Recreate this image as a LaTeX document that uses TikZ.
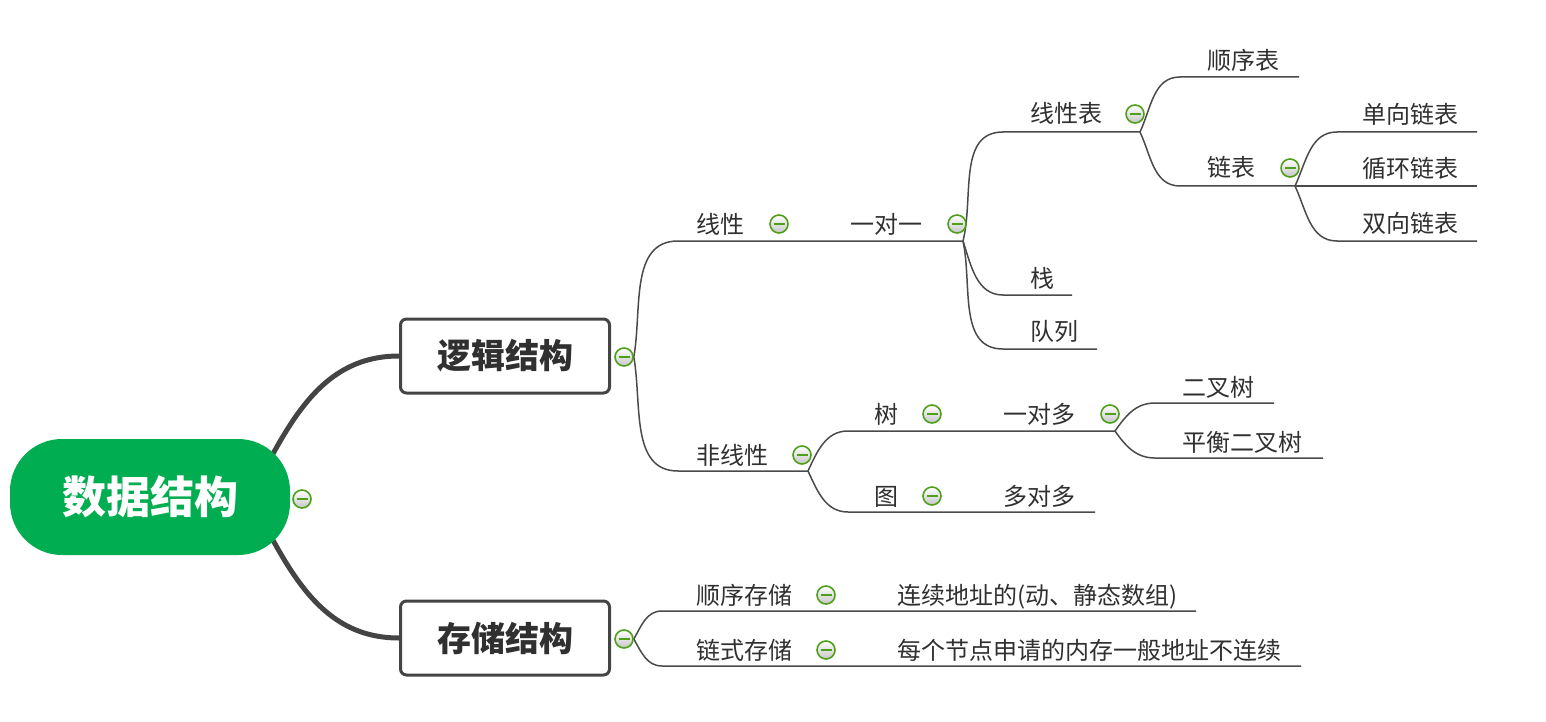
\documentclass[tikz,border=0pt]{standalone}
\usepackage{fontspec}
\newfontfamily\cjk{Noto Sans CJK SC}
\usetikzlibrary{backgrounds}
\definecolor{rootgreen}{HTML}{00AD50}
\definecolor{linec}{HTML}{4A4A4A}
\definecolor{boxc}{HTML}{444444}
\definecolor{txt}{HTML}{303030}
\definecolor{cgreen}{HTML}{4E9F1A}
\begin{document}
\begin{tikzpicture}[x=1pt,y=1pt,
  lbl/.style={anchor=west, inner sep=0pt, font=\cjk\fontsize{24}{28}\selectfont, text=txt, text height=21pt, text depth=3pt},
  conn/.style={draw=linec, line width=1.5pt},
  rootconn/.style={draw=boxc, line width=5pt},
  fold/.style={circle, draw=cgreen, line width=1.6pt, minimum size=18pt, inner sep=0pt, top color=white, bottom color=black!22,
    path picture={\draw[cgreen, line width=2.2pt] ([xshift=-5.5pt]path picture bounding box.center) -- ([xshift=5.5pt]path picture bounding box.center);}},
  topbox/.style={draw=boxc, line width=3pt, rounded corners=6pt, fill=white, minimum width=209pt, minimum height=74pt, font=\cjk\bfseries\fontsize{34}{40}\selectfont, text=txt},
  rootnode/.style={fill=rootgreen, rounded corners=52pt, minimum width=280pt, minimum height=116pt, text=white, font=\cjk\bfseries\fontsize{44}{50}\selectfont}
]
\useasboundingbox (0,0) rectangle (1546,-722);
% main nodes
\node[rootnode] (root) at (150,-497) {数据结构};
\node[fold] (f0) at (302,-499) {};
\node[topbox] (L1) at (505,-356) {逻辑结构};
\node[topbox] (L2) at (505,-638) {存储结构};
\node[fold] (f1) at (624,-357) {};
\node[fold] (f2) at (624,-639) {};
% underline coordinates
\coordinate (a1s) at (678,-241); \coordinate (a1e) at (808,-241);
\coordinate (b1e) at (963,-241);
\coordinate (c1s) at (1003,-132); \coordinate (c1e) at (1140,-132);
\coordinate (c2s) at (1003,-295); \coordinate (c2e) at (1072,-295);
\coordinate (c3s) at (1003,-349); \coordinate (c3e) at (1097,-349);
\coordinate (d1s) at (1180,-77); \coordinate (d1e) at (1299,-77);
\coordinate (d2s) at (1180,-186); \coordinate (d2e) at (1295,-186);
\coordinate (e1s) at (1337,-132); \coordinate (e1e) at (1477,-132);
\coordinate (e2e) at (1477,-186);
\coordinate (e3s) at (1337,-241); \coordinate (e3e) at (1477,-241);
\coordinate (a2s) at (678,-471); \coordinate (a2e) at (808,-471);
\coordinate (b2s) at (848,-431); \coordinate (b2e) at (960,-431);
\coordinate (b3e) at (1115,-431);
\coordinate (h1s) at (1155,-403); \coordinate (h1e) at (1274,-403);
\coordinate (h2s) at (1155,-458); \coordinate (h2e) at (1323,-458);
\coordinate (b4s) at (848,-512); \coordinate (b4e) at (960,-512);
\coordinate (b5e) at (1095,-512);
\coordinate (g1s) at (662,-611); \coordinate (g1e) at (840,-611);
\coordinate (g2e) at (1196,-611);
\coordinate (g3s) at (662,-666); \coordinate (g3e) at (840,-666);
\coordinate (g4e) at (1301,-666);
% labels
\node[lbl] (ta1) at (696,-224) {线性};
\node[fold] (fa1) at (779,-224) {};
\node[lbl] (tb1) at (850,-224) {一对一};
\node[fold] (fb1) at (957,-224) {};
\node[lbl] (tc1) at (1030,-114) {线性表};
\node[fold] (fc1) at (1135,-114) {};
\node[lbl] (tc2) at (1030,-278) {栈};
\node[lbl] (tc3) at (1030,-331) {队列};
\node[lbl] (td1) at (1207,-61) {顺序表};
\node[lbl] (td2) at (1207,-168) {链表};
\node[fold] (fd2) at (1290,-168) {};
\node[lbl] (te1) at (1362,-115) {单向链表};
\node[lbl] (te2) at (1362,-169) {循环链表};
\node[lbl] (te3) at (1362,-223) {双向链表};
\node[lbl] (ta2) at (696,-455) {非线性};
\node[fold] (fa2) at (802,-455) {};
\node[lbl] (tb2) at (874,-414) {树};
\node[fold] (fb2) at (932,-414) {};
\node[lbl] (tb3) at (1003,-414) {一对多};
\node[fold] (fb3) at (1110,-414) {};
\node[lbl] (th1) at (1182,-387) {二叉树};
\node[lbl] (th2) at (1182,-442) {平衡二叉树};
\node[lbl] (tb4) at (874,-496) {图};
\node[fold] (fb4) at (932,-496) {};
\node[lbl] (tb5) at (1003,-496) {多对多};
\node[lbl] (tg1) at (696,-595) {顺序存储};
\node[fold] (fg1) at (826,-595) {};
\node[lbl] (tg2) at (897,-595) {连续地址的(动、静态数组)};
\node[lbl] (tg3) at (696,-650) {链式存储};
\node[fold] (fg3) at (826,-650) {};
\node[lbl] (tg4) at (897,-650) {每个节点申请的内存一般地址不连续};
% connectors
\begin{scope}[on background layer]
\draw[rootconn] ([xshift=100pt]root.center) to[out=62,in=180] (L1.west);
\draw[rootconn] ([xshift=100pt]root.center) to[out=-62,in=180] (L2.west);
\draw[conn] (f1.east) to[out=80,in=180] (a1s) -- (a1e) -- (b1e);
\draw[conn] (f1.east) to[out=-80,in=180] (a2s) -- (a2e);
\draw[conn] (b1e) to[out=76,in=180] (c1s) -- (c1e);
\draw[conn] (b1e) to[out=-72,in=180] (c2s) -- (c2e);
\draw[conn] (b1e) to[out=-78,in=180] (c3s) -- (c3e);
\draw[conn] (c1e) to[out=65,in=180] (d1s) -- (d1e);
\draw[conn] (c1e) to[out=-65,in=180] (d2s) -- (d2e);
\draw[conn] (d2e) to[out=65,in=180] (e1s) -- (e1e);
\draw[conn] (d2e) -- (e2e);
\draw[conn] (d2e) to[out=-65,in=180] (e3s) -- (e3e);
\draw[conn] (a2e) to[out=65,in=180] (b2s) -- (b2e) -- (b3e);
\draw[conn] (a2e) to[out=-65,in=180] (b4s) -- (b4e) -- (b5e);
\draw[conn] (b3e) to[out=55,in=180] (h1s) -- (h1e);
\draw[conn] (b3e) to[out=-55,in=180] (h2s) -- (h2e);
\draw[conn] (f2.east) to[out=60,in=180] (g1s) -- (g1e) -- (g2e);
\draw[conn] (f2.east) to[out=-60,in=180] (g3s) -- (g3e) -- (g4e);
\end{scope}
\end{tikzpicture}
\end{document}
